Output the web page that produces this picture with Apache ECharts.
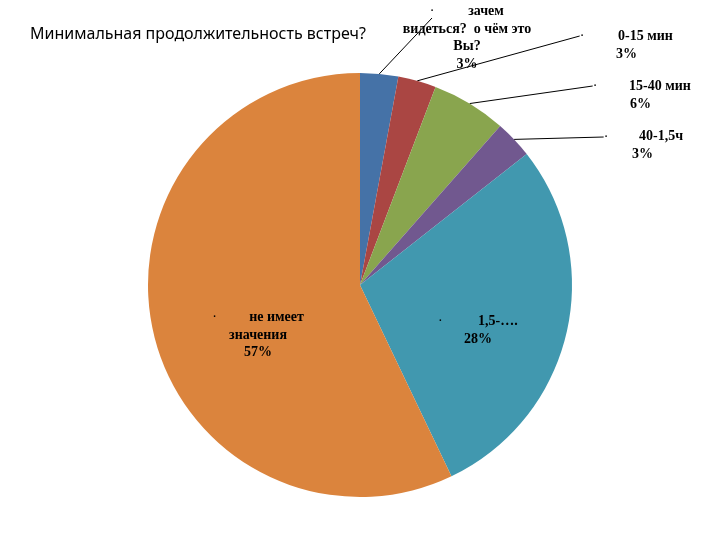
<!DOCTYPE html>
<html><head><meta charset="utf-8">
<script src="https://cdn.jsdelivr.net/npm/echarts@6/dist/echarts.min.js"></script>
<style>html,body{margin:0;padding:0;background:#fff}#c{width:720px;height:540px}</style>
</head><body><div id="c"></div>
<script>
// Data
var titleText = 'Минимальная продолжительность встреч?';
var categories = ['зачем видеться?  о чём это Вы?', '0-15 мин', '15-40 мин', '40-1,5ч', '1,5-….', 'не имеет значения'];
var values = [2.9, 2.9, 5.7, 2.9, 28.5, 57.1];
var pctLabels = ['3%', '3%', '6%', '3%', '28%', '57%'];

// Styling / layout (not data)
var colors = ['#4572A7', '#AA4643', '#89A54E', '#71588F', '#4198AF', '#DB843D'];
var labelPos = [
  {x: 467, y: 3, align: 'center'},
  {x: 580, y: 28, align: 'left'},
  {x: 593, y: 78, align: 'left'},
  {x: 604, y: 128, align: 'left'},
  {x: 438, y: 313, align: 'left'},
  {x: 258, y: 309, align: 'center'}
];
var bulletPos = [[432, 11], [582, 36], [595, 86], [606, 137]];
var fmt = [
  function(i){ return '{d0|}{t|зачем}\n{t|видеться?  о чём это}\n{t|Вы?}\n{t|' + pctLabels[i] + '}'; },
  function(i){ return '{d1|}{t|0-15 мин}\n{s1|}{t|' + pctLabels[i] + '}'; },
  function(i){ return '{d2|}{t|15-40 мин}\n{s2|}{t|' + pctLabels[i] + '}'; },
  function(i){ return '{d3|}{t|40-1,5ч}\n{s3|}{t|' + pctLabels[i] + '}'; },
  function(i){ return '{d4|·}{t|1,5-….}\n{s4|}{t|' + pctLabels[i] + '}'; },
  function(i){ return '{d5|·}{t|не имеет}\n{t|значения}\n{t|' + pctLabels[i] + '}'; }
];
var FS = 14, LH = 17.5;
var tStyle = {fontFamily: 'Liberation Serif', fontWeight: 'bold', fontSize: FS, color: '#000', lineHeight: LH};
var dStyle = function(w){ return {fontFamily: 'Liberation Serif', fontSize: FS, color: '#000', width: w, lineHeight: LH, align: 'left'}; };
var rich = {
  t: tStyle,
  d0: dStyle(38), d1: dStyle(38), d2: dStyle(36), d3: dStyle(35), d4: dStyle(40), d5: dStyle(37),
  s1: dStyle(36), s2: dStyle(37), s3: dStyle(28), s4: dStyle(26)
};

var data = categories.map(function(n, i){
  var inside = i >= 4;
  return {
    name: n,
    value: values[i],
    itemStyle: {color: colors[i]},
    label: {position: inside ? 'inside' : 'outside'}
  };
});
var guideData = categories.map(function(n, i){
  var inside = i >= 4;
  return {
    name: n,
    value: values[i],
    label: {show: !inside},
    labelLine: {show: !inside}
  };
});

var chart = echarts.init(document.getElementById('c'), null, {renderer: 'canvas'});
chart.setOption({
  backgroundColor: '#fff',
  animation: false,
  title: {
    text: titleText, left: 25, top: 21,
    textStyle: {fontFamily: 'Noto Sans', fontWeight: 'normal', fontSize: 16, color: '#000'}
  },
  series: [{
    type: 'pie',
    center: [360, 285],
    radius: 212,
    startAngle: 90,
    clockwise: true,
    avoidLabelOverlap: false,
    itemStyle: {borderWidth: 0},
    label: {
      show: true,
      formatter: function(p){ return fmt[p.dataIndex](p.dataIndex); },
      rich: rich
    },
    labelLine: {show: false},
    labelLayout: function(p){
      var L = labelPos[p.dataIndex];
      return {x: L.x, y: L.y, align: L.align, verticalAlign: 'top'};
    },
    emphasis: {disabled: true},
    data: data
  }, {
    type: 'pie',
    silent: true,
    center: [360, 285],
    radius: 212,
    startAngle: 90,
    clockwise: true,
    avoidLabelOverlap: false,
    itemStyle: {color: 'rgba(0,0,0,0)', borderWidth: 0},
    label: {
      position: 'outside',
      formatter: '·',
      fontFamily: 'Liberation Serif', fontSize: FS, color: '#000', padding: 0
    },
    labelLine: {length: 0, length2: 0, smooth: false, minTurnAngle: 0,
      lineStyle: {color: '#000', width: 1}},
    labelLayout: function(p){
      var B = bulletPos[p.dataIndex] || [0, 0];
      return {x: B[0], y: B[1], align: 'center', verticalAlign: 'middle'};
    },
    emphasis: {disabled: true},
    data: guideData
  }]
});
</script></body></html>
